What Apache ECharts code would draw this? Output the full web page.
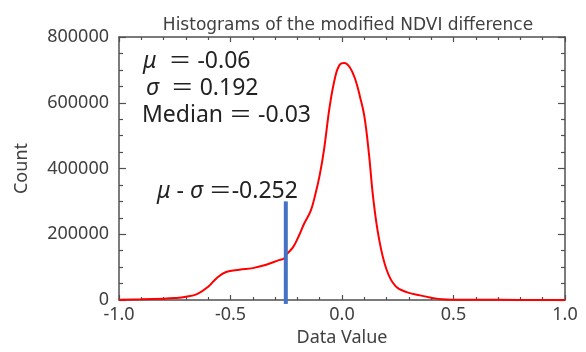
<!DOCTYPE html>
<html><head><meta charset="utf-8">
<script src="https://cdn.jsdelivr.net/npm/echarts@6/dist/echarts.min.js"></script>
<style>html,body{margin:0;padding:0;background:#fff}#c{width:586px;height:352px}</style>
</head><body><div id="c"></div>
<script>
var dataValues = [-1.0, -0.9, -0.8, -0.75, -0.7, -0.65, -0.6, -0.56, -0.52, -0.46, -0.4, -0.34, -0.28, -0.26, -0.25, -0.22, -0.19, -0.17, -0.14, -0.12, -0.1, -0.08, -0.055, -0.03, -0.01, 0.01, 0.035, 0.06, 0.08, 0.1, 0.12, 0.14, 0.165, 0.2, 0.24, 0.29, 0.35, 0.4, 0.45, 0.5, 0.7, 1.0];
var counts = [1000, 2000, 4000, 6000, 10000, 18000, 40000, 68000, 85000, 92000, 97000, 107000, 122000, 126000, 138000, 160000, 200000, 232000, 272000, 320000, 380000, 460000, 590000, 680000, 716000, 721000, 708000, 670000, 620000, 560000, 450000, 310000, 190000, 92000, 42000, 24000, 14000, 7000, 2000, 1000, 500, 0];
var muMinusSigma = -0.252;
var markerTop = 300000;
var markerBottom = -12000;
var xTicks = [-1.0, -0.5, 0.0, 0.5, 1.0];
var yTicks = [0, 200000, 400000, 600000, 800000];
var titleText = 'Histograms of the modified NDVI difference';
var annoLines = ['{i|μ}  ＝ -0.06', ' {i|σ}  ＝ 0.192', 'Median ＝ -0.03'];
var annoMuSigma = '{i|μ} - {i|σ} ＝-0.252';

var font = '"Noto Sans", "Noto Sans CJK JP", sans-serif';
var axisColor = '#505050';
var labelColor = '#404040';

var chart = echarts.init(document.getElementById('c'));
function baseX(pos, labels) {
  return {
    type: 'value', position: pos, min: xTicks[0], max: xTicks[xTicks.length-1], interval: 0.5,
    axisLine: {show: true, onZero: false, lineStyle: {color: axisColor, width: 1.5}},
    axisTick: {show: true, inside: true, length: 5, lineStyle: {color: axisColor, width: 1.2}},
    minorTick: {show: true, splitNumber: 5, length: 3, lineStyle: {color: axisColor, width: 1.2}},
    splitLine: {show: false},
    axisLabel: {show: labels, color: labelColor, fontSize: 18, fontFamily: font, margin: 6,
      formatter: function(v){return v.toFixed(1);}},
    name: labels ? 'Data Value' : '', nameLocation: 'middle', nameGap: 29,
    nameTextStyle: {color: labelColor, fontSize: 18, fontFamily: font}
  };
}
function baseY(pos, labels) {
  return {
    type: 'value', position: pos, min: yTicks[0], max: yTicks[yTicks.length-1], interval: 200000,
    axisLine: {show: true, onZero: false, lineStyle: {color: axisColor, width: 1.5}},
    axisTick: {show: true, inside: true, length: 7, lineStyle: {color: axisColor, width: 1.2}},
    minorTick: {show: true, splitNumber: 4, length: 4, lineStyle: {color: axisColor, width: 1.2}},
    splitLine: {show: false},
    axisLabel: {show: labels, color: labelColor, fontSize: 18, fontFamily: font, margin: 10,
      formatter: function(v){return String(v);}},
    name: labels ? 'Count' : '', nameLocation: 'middle', nameGap: 88, nameRotate: 90,
    nameTextStyle: {color: labelColor, fontSize: 18, fontFamily: font}
  };
}
var lineData = dataValues.map(function(x,i){return [x, counts[i]];});
var rich = {i: {fontStyle: 'italic', fontSize: 23, fontFamily: font, color: '#222'}};
var txt = function(t, x, y){ return {type:'text', left:x, top:y, style:{text:t, rich:rich, fontSize:23, fontFamily:font, fill:'#222'}}; };
chart.setOption({
  animation: false,
  title: {text: titleText, left: 343, top: 12, textAlign: 'center',
    textStyle: {fontSize: 17, fontWeight: 'normal', color: labelColor, fontFamily: '"DejaVu Sans", sans-serif'}},
  grid: {left: 119, right: 21, top: 37, bottom: 48},
  xAxis: [baseX('bottom', true), baseX('top', false)],
  yAxis: [baseY('left', true), baseY('right', false)],
  series: [
    {type: 'line', data: lineData, smooth: 0.4, showSymbol: false, symbol: 'none',
     lineStyle: {color: '#ff0000', width: 2}, z: 3},
    {type: 'line', data: [[muMinusSigma, markerTop], [muMinusSigma, markerBottom]], showSymbol: false, symbol: 'none',
     clip: false, lineStyle: {color: '#4472c4', width: 4}, z: 4}
  ],
  graphic: [
    txt(annoLines[0], 143, 50),
    txt(annoLines[1], 140, 77),
    txt(annoLines[2], 142, 104),
    txt(annoMuSigma, 157, 180)
  ]
});
</script></body></html>
